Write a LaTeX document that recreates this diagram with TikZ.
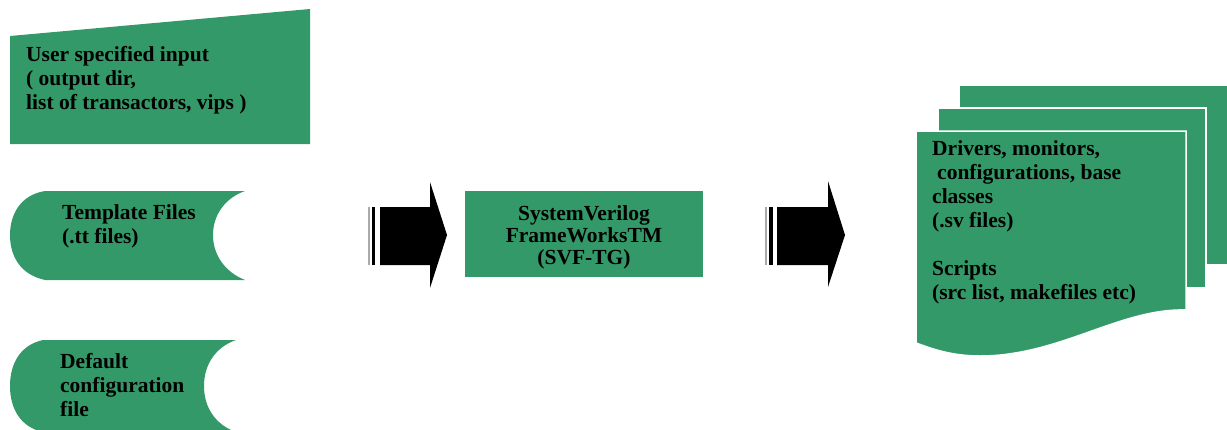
\documentclass[tikz,border=0pt]{standalone}
\usepackage{fontspec}
\setmainfont{Liberation Serif}
\definecolor{boxgreen}{RGB}{52,153,104}
\definecolor{stripegray}{RGB}{170,170,170}
\begin{document}
\begin{tikzpicture}[x=1pt,y=-1pt,
  shapefill/.style={fill=boxgreen,draw=none},
  pagefill/.style={fill=boxgreen,draw=white,line width=1.5pt},
  label/.style={inner sep=0pt,align=left,font=\fontsize{21.5}{24}\selectfont\bfseries,text=black},
  blockarrow/.style={fill=black,draw=none},
  graystripe/.style={fill=stripegray,draw=none}]
\useasboundingbox (0,0) rectangle (1227,429);
\clip (0,0) rectangle (1227,429);
% manual input
\path[shapefill] (10,36) -- (310,9) -- (310,144) -- (10,144) -- cycle;
\node[label,anchor=north west] (userin) at (26,46) {User specified input\\( output dir,\\list of transactors, vips )};
% template files (stored data)
\path[shapefill] (45,191) -- (245,191) .. controls (225,198) and (213,215) .. (213,235)
  .. controls (213,255) and (225,272) .. (245,280) -- (45,280)
  .. controls (22,275) and (10,258) .. (10,235) .. controls (10,215) and (20,195) .. (45,191) -- cycle;
\node[label,anchor=north west] (tmpl) at (62,204) {Template Files\\(.tt files)};
% default configuration
\path[shapefill] (43,340) -- (236,340) .. controls (216,347) and (204,364) .. (204,386)
  .. controls (204,408) and (216,425) .. (236,432) -- (43,432)
  .. controls (20,427) and (10,408) .. (10,386) .. controls (10,364) and (20,345) .. (43,340) -- cycle;
\node[label,anchor=north west] (defcfg) at (60,353) {Default\\configuration\\file};
% arrow 1
\path[graystripe] (367.5,207) rectangle (369.5,265);
\path[blockarrow] (371.8,207) rectangle (375.3,265);
\path[blockarrow] (380,207) -- (430,207) -- (430,182) -- (447,235) -- (430,288) -- (430,265) -- (380,265) -- cycle;
% central box
\path[shapefill] (465,191) rectangle (703,277);
\node[label,align=center,anchor=north,font=\fontsize{21.5}{22}\selectfont\bfseries] (svf) at (584,205) {SystemVerilog\\FrameWorksTM\\(SVF-TG)};
% arrow 2
\path[graystripe] (764.5,207) rectangle (766.5,265);
\path[blockarrow] (769,207) rectangle (773,265);
\path[blockarrow] (777,207) -- (828,207) -- (828,181) -- (845,235) -- (828,287) -- (828,265) -- (777,265) -- cycle;
% multidocument
\path[pagefill] (959,85) -- (1240,85) -- (1240,265) -- (959,265) -- cycle;
\path[pagefill] (938,108) -- (1206,108) -- (1206,288) -- (938,288) -- cycle;
\path[pagefill] (916,131) -- (1186,131) -- (1186,310)
  .. controls (1120,308) and (1060,356) .. (980,356)
  .. controls (950,356) and (930,348) .. (916,343) -- cycle;
\node[label,anchor=north west] (outs) at (932,140) {Drivers, monitors,\\\hspace{5pt}configurations, base\\classes\\(.sv files)\\[24pt]Scripts\\(src list, makefiles etc)};
\end{tikzpicture}
\end{document}
